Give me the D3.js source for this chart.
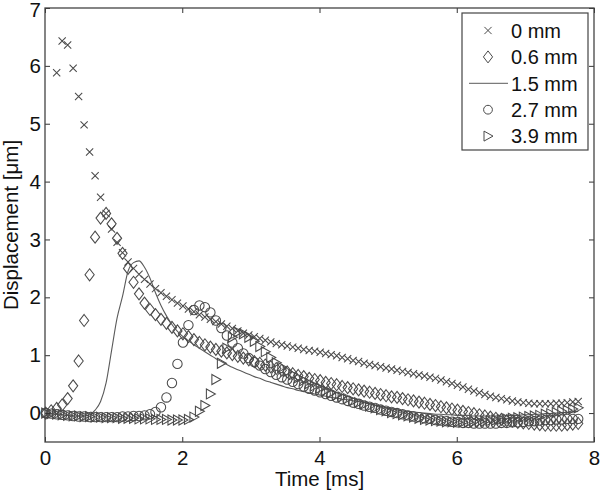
<!DOCTYPE html>
<html><head><meta charset="utf-8">
<script src="https://cdn.jsdelivr.net/npm/d3@7"></script>
<style>
html,body{margin:0;padding:0;background:#fff;}
svg{display:block;font-family:"Liberation Sans",Arial,sans-serif;}
</style></head>
<body>
<svg id="chart" width="600" height="492"></svg>
<script>
// sample times [ms]
const time = [0.01,0.09,0.17,0.25,0.33,0.41,0.49,0.57,0.65,0.73,0.81,0.89,0.97,1.05,1.13,1.21,1.29,1.37,1.45,1.53,
1.61,1.69,1.77,1.85,1.93,2.01,2.09,2.17,2.25,2.33,2.41,2.49,2.57,2.65,2.73,2.81,2.89,2.97,3.05,3.13,
3.21,3.29,3.37,3.45,3.53,3.61,3.69,3.77,3.85,3.93,4.01,4.09,4.17,4.25,4.33,4.41,4.49,4.57,4.65,4.73,
4.81,4.89,4.97,5.05,5.13,5.21,5.29,5.37,5.45,5.53,5.61,5.69,5.77,5.85,5.93,6.01,6.09,6.17,6.25,6.33,
6.41,6.49,6.57,6.65,6.73,6.81,6.89,6.97,7.05,7.13,7.21,7.29,7.37,7.45,7.53,7.61,7.69,7.77];

const seriesNames = ["0 mm","0.6 mm","1.5 mm","2.7 mm","3.9 mm"];

const d0mm = [null,null,5.88,6.43,6.36,5.96,5.47,4.98,4.51,4.10,3.73,3.45,3.18,2.95,2.77,2.61,2.50,2.40,2.31,2.23,
2.15,2.08,2.02,1.96,1.90,1.85,1.80,1.75,1.70,1.66,1.62,1.58,1.54,1.50,1.46,1.42,1.38,1.35,1.32,1.29,
1.26,1.23,1.20,1.18,1.16,1.14,1.12,1.10,1.08,1.07,1.05,1.03,1.01,0.99,0.96,0.94,0.91,0.89,0.86,0.84,
0.82,0.80,0.78,0.76,0.74,0.72,0.70,0.68,0.66,0.64,0.62,0.60,0.57,0.54,0.51,0.48,0.45,0.41,0.38,0.35,
0.32,0.29,0.27,0.25,0.23,0.21,0.19,0.18,0.17,0.16,0.16,0.16,0.16,0.17,0.17,0.18,0.19,0.20];

const d06mm = [0.00,0.04,0.08,0.14,0.25,0.47,0.90,1.60,2.39,3.04,3.37,3.45,3.27,3.02,2.76,2.50,2.26,2.06,1.90,1.79,
1.70,1.62,1.55,1.48,1.42,1.37,1.32,1.27,1.22,1.18,1.14,1.10,1.07,1.04,1.01,0.98,0.95,0.92,0.89,0.86,
0.83,0.80,0.77,0.74,0.71,0.68,0.65,0.63,0.60,0.58,0.56,0.53,0.51,0.49,0.46,0.44,0.42,0.40,0.38,0.36,
0.34,0.32,0.30,0.28,0.27,0.25,0.23,0.21,0.19,0.17,0.15,0.13,0.11,0.09,0.07,0.05,0.03,0.01,-0.01,-0.03,
-0.05,-0.07,-0.09,-0.11,-0.13,-0.14,-0.16,-0.17,-0.18,-0.19,-0.20,-0.21,-0.21,-0.21,-0.21,-0.20,-0.19,-0.18];

const d15mm = [0.00,-0.01,-0.02,-0.03,-0.04,-0.05,-0.05,-0.05,-0.03,0.05,0.20,0.52,1.08,1.64,2.02,2.45,2.60,2.63,2.52,2.33,
2.08,1.86,1.68,1.53,1.41,1.32,1.25,1.18,1.12,1.06,1.00,0.94,0.89,0.84,0.79,0.75,0.71,0.67,0.63,0.60,
0.56,0.53,0.50,0.47,0.44,0.42,0.39,0.37,0.35,0.33,0.31,0.29,0.27,0.26,0.24,0.23,0.21,0.20,0.18,0.16,
0.14,0.12,0.10,0.08,0.06,0.04,0.03,0.02,0.01,0.00,-0.01,-0.02,-0.02,-0.03,-0.03,-0.04,-0.04,-0.04,-0.05,-0.05,
-0.05,-0.05,-0.05,-0.05,-0.04,-0.04,-0.04,-0.03,-0.03,-0.02,-0.02,-0.01,-0.01,0.00,0.01,0.01,0.02,0.03];

const d27mm = [0.00,-0.01,-0.02,-0.03,-0.04,-0.05,-0.06,-0.06,-0.07,-0.07,-0.07,-0.07,-0.07,-0.07,-0.06,-0.06,-0.05,-0.05,-0.04,-0.02,
0.02,0.10,0.27,0.52,0.85,1.22,1.52,1.78,1.86,1.83,1.74,1.60,1.47,1.34,1.22,1.12,1.03,0.95,0.88,0.82,
0.76,0.71,0.66,0.62,0.58,0.54,0.50,0.46,0.42,0.39,0.36,0.33,0.30,0.27,0.24,0.21,0.18,0.16,0.13,0.11,
0.09,0.06,0.04,0.02,0.00,-0.02,-0.04,-0.06,-0.07,-0.09,-0.10,-0.12,-0.13,-0.14,-0.15,-0.16,-0.17,-0.17,-0.18,-0.18,
-0.18,-0.18,-0.18,-0.17,-0.17,-0.16,-0.16,-0.15,-0.14,-0.14,-0.13,-0.12,-0.12,-0.11,-0.11,-0.10,-0.10,-0.10];

const d39mm = [0.00,-0.01,-0.02,-0.03,-0.04,-0.05,-0.05,-0.06,-0.06,-0.07,-0.07,-0.08,-0.08,-0.08,-0.09,-0.09,-0.09,-0.10,-0.10,-0.10,
-0.11,-0.11,-0.11,-0.12,-0.12,-0.12,-0.11,-0.07,0.03,0.13,0.33,0.58,0.86,1.12,1.31,1.40,1.37,1.31,1.24,1.15,
1.06,0.96,0.87,0.79,0.72,0.66,0.61,0.56,0.51,0.47,0.43,0.39,0.35,0.31,0.28,0.25,0.21,0.18,0.15,0.12,
0.09,0.06,0.04,0.01,-0.01,-0.03,-0.05,-0.07,-0.09,-0.11,-0.12,-0.13,-0.14,-0.15,-0.15,-0.16,-0.16,-0.16,-0.15,-0.15,
-0.14,-0.13,-0.12,-0.11,-0.10,-0.09,-0.08,-0.07,-0.06,-0.05,-0.04,-0.02,-0.01,0.01,0.03,0.05,0.07,0.09];

const xTicks = [0,2,4,6,8];
const yTicks = [0,1,2,3,4,5,6,7];
const xLabel = "Time [ms]";
const yLabel = "Displacement [\u03bcm]";

// ---------- drawing ----------
const svg = d3.select("#chart");
const L = 45, R = 594, T = 8, B = 442;
const x = d3.scaleLinear().domain([0, 8]).range([L, R]);
const y = d3.scaleLinear().domain([-0.5, 7]).range([B, T]);
const ink = "#4a4a4a";

const shapes = {
  cross: "M-3.6,-3.6L3.6,3.6M-3.6,3.6L3.6,-3.6",
  diamond: "M0,-6L4.6,0L0,6L-4.6,0Z",
  tri: "M-4,-5L5,0L-4,5Z"
};

function pts(vals) {
  const out = [];
  for (let i = 0; i < Math.min(vals.length, time.length); i++) {
    if (vals[i] !== null) out.push([time[i], vals[i]]);
  }
  return out;
}

const plot = svg.append("g");

function markers(vals, kind) {
  const g = plot.append("g").attr("fill", "none").attr("stroke", ink).attr("stroke-width", 1.05);
  const data = pts(vals);
  if (kind === "circle") {
    g.selectAll("circle").data(data).join("circle")
      .attr("cx", d => x(d[0])).attr("cy", d => y(d[1])).attr("r", 4.7);
  } else {
    g.selectAll("path").data(data).join("path")
      .attr("d", shapes[kind])
      .attr("transform", d => `translate(${x(d[0])},${y(d[1])})`);
  }
}

markers(d0mm, "cross");
markers(d06mm, "diamond");
plot.append("path").datum(pts(d15mm))
  .attr("fill", "none").attr("stroke", "#5a5a5a").attr("stroke-width", 1.1)
  .attr("d", d3.line().x(d => x(d[0])).y(d => y(d[1])).curve(d3.curveMonotoneX));
markers(d27mm, "circle");
markers(d39mm, "tri");

// axes
const fs = 20.5;
const ax = svg.append("g");
ax.append("g").attr("transform", `translate(0,${B})`)
  .call(d3.axisBottom(x).tickValues(xTicks).tickSize(-5).tickPadding(8).tickFormat(d3.format("d")));
ax.append("g").attr("transform", `translate(0,${T})`)
  .call(d3.axisTop(x).tickValues(xTicks).tickSize(-5).tickFormat(""));
const yAx = ax.append("g").attr("transform", `translate(${L},0)`)
  .call(d3.axisLeft(y).tickValues(yTicks).tickSize(-5).tickPadding(4).tickFormat(d3.format("d")));
ax.append("g").attr("transform", `translate(${R},0)`)
  .call(d3.axisRight(y).tickValues(yTicks).tickSize(-5).tickFormat(""));
ax.selectAll(".domain").remove();
ax.selectAll(".tick line").attr("stroke", "#333").attr("stroke-width", 1);
ax.selectAll(".tick text").attr("font-size", fs).attr("fill", "#111")
  .attr("font-family", '"Liberation Sans",Arial,sans-serif');
// keep the top label inside the picture, as in the reference
yAx.selectAll(".tick text").filter(d => d === 7).attr("y", 1.5);
svg.append("rect").attr("x", L).attr("y", T).attr("width", R - L).attr("height", B - T)
  .attr("fill", "none").attr("stroke", "#444").attr("stroke-width", 1.3);

svg.append("text").attr("x", (L + R) / 2).attr("y", 486).attr("text-anchor", "middle")
  .attr("font-size", fs).attr("fill", "#111").text(xLabel);
svg.append("text").attr("transform", `translate(18,${(T + B) / 2}) rotate(-90)`)
  .attr("text-anchor", "middle").attr("font-size", 20.5).attr("fill", "#111").text(yLabel);

// legend
const lg = svg.append("g");
lg.append("rect").attr("x", 462).attr("y", 13).attr("width", 126).attr("height", 137)
  .attr("fill", "#fff").attr("stroke", "#444").attr("stroke-width", 1.2);
const kinds = ["cross", "diamond", "line", "circle", "tri"];
seriesNames.forEach((name, i) => {
  const cy = 30.5 + i * 26.4;
  const g = lg.append("g").attr("fill", "none").attr("stroke", ink).attr("stroke-width", 1);
  const k = kinds[i];
  if (k === "line") {
    g.append("line").attr("x1", 469).attr("x2", 508).attr("y1", cy).attr("y2", cy).attr("stroke", "#5a5a5a");
  } else if (k === "circle") {
    g.append("circle").attr("cx", 488).attr("cy", cy).attr("r", 4.4);
  } else {
    g.append("path").attr("d", shapes[k]).attr("transform", `translate(488,${cy})`);
  }
  lg.append("text").attr("x", 511).attr("y", cy).attr("dy", "0.36em")
    .attr("font-size", 20).attr("fill", "#111").text(name);
});
</script>
</body></html>
